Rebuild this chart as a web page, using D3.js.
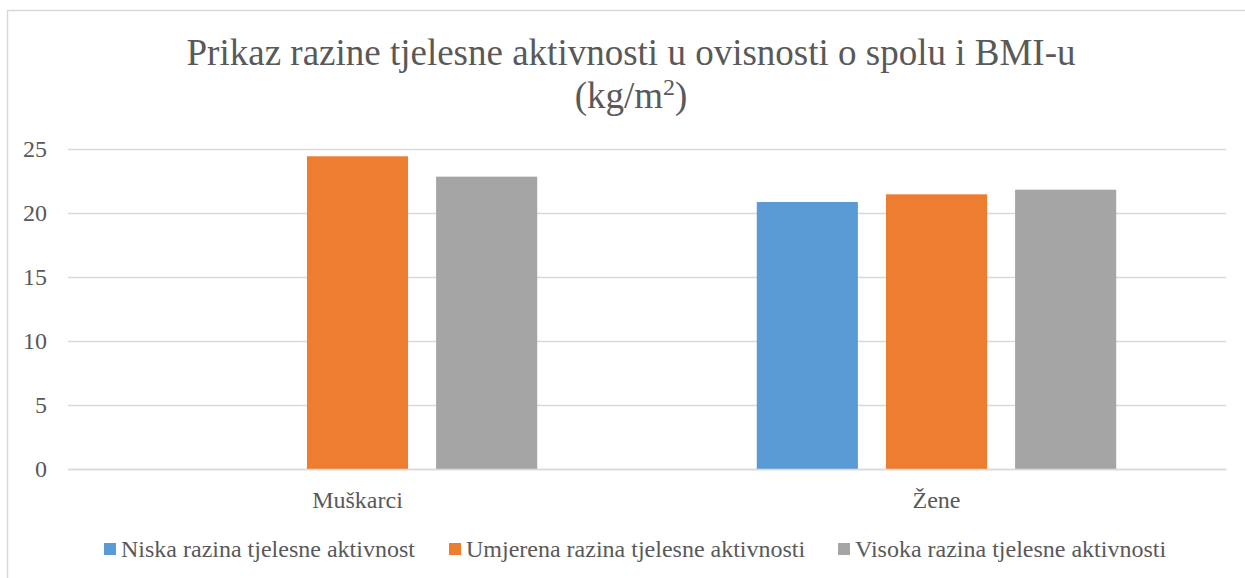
<!DOCTYPE html>
<html>
<head>
<meta charset="utf-8">
<script src="https://cdn.jsdelivr.net/npm/d3@7"></script>
<style>
  body { margin: 0; background: #fff; }
  svg text { font-family: "Liberation Serif", "Times New Roman", Times, Tinos, "DejaVu Serif", "Noto Serif", serif !important; fill: #595959; }
</style>
</head>
<body>
<script>
// chart data
var categories = ["Muškarci", "Žene"];
var seriesNames = ["Niska razina tjelesne aktivnost", "Umjerena razina tjelesne aktivnosti", "Visoka razina tjelesne aktivnosti"];
var seriesColors = ["#5b9bd5", "#ed7d31", "#a5a5a5"];
var niskaValues = [null, 20.86];
var umjerenaValues = [24.43, 21.46];
var visokaValues = [22.84, 21.82];
var yTicks = [0, 5, 10, 15, 20, 25];

var seriesValues = [niskaValues, umjerenaValues, visokaValues];

var width = 1245;
var height = 578;

var svg = d3.select("body")
            .append("svg")
            .attr("width", width)
            .attr("height", height);

// outer border of the chart area
svg.append("rect")
   .attr("x", 7.5)
   .attr("y", 10.5)
   .attr("width", 1300)
   .attr("height", 700)
   .style("fill", "none")
   .style("stroke", "#d9d9d9")
   .style("stroke-width", 1.5);

// title
var title = svg.append("text")
               .attr("x", 631)
               .attr("y", 65)
               .attr("text-anchor", "middle")
               .style("font-size", "37px");
title.append("tspan").text("Prikaz razine tjelesne aktivnosti u ovisnosti o spolu i BMI-u");
var line2 = svg.append("text")
               .attr("x", 631)
               .attr("y", 108)
               .attr("text-anchor", "middle")
               .style("font-size", "37px");
line2.append("tspan").text("(kg/m");
line2.append("tspan").attr("dy", -13).style("font-size", "24px").text("2");
line2.append("tspan").attr("dy", 13).text(")");

var plotLeft = 68, plotRight = 1226, plotTop = 149, plotBottom = 469;

var y = d3.scaleLinear()
          .domain([0, 25])
          .range([plotBottom, plotTop]);

var x0 = d3.scaleBand()
           .domain(categories)
           .range([plotLeft, plotRight])
           .padding(0);

var x1 = d3.scaleBand()
           .domain(seriesNames)
           .range([0, x0.bandwidth()])
           .paddingInner(0.217)
           .paddingOuter(0.85);

// gridlines
var yAxis = d3.axisLeft(y)
              .tickValues(yTicks)
              .tickSize(-(plotRight - plotLeft))
              .tickPadding(21);

var gy = svg.append("g")
            .attr("transform", "translate(" + plotLeft + ",0)")
            .call(yAxis)
            .attr("font-family", null);
gy.select(".domain").remove();
gy.selectAll(".tick line")
  .style("stroke", "#d9d9d9")
  .style("stroke-width", 1.5);
gy.selectAll(".tick text")
  .style("font-size", "24px");

// bars
var groups = svg.selectAll(".group")
                .data(categories)
                .enter()
                .append("g")
                .attr("class", "group")
                .attr("transform", function(d) { return "translate(" + x0(d) + ",0)"; });

groups.selectAll("rect")
      .data(function(d, i) {
          return seriesNames.map(function(s, j) {
              return { series: s, value: seriesValues[j][i], color: seriesColors[j] };
          }).filter(function(e) { return e.value != null; });
      })
      .enter()
      .append("rect")
      .attr("x", function(d) { return x1(d.series); })
      .attr("width", x1.bandwidth())
      .attr("y", function(d) { return y(d.value); })
      .attr("height", function(d) { return plotBottom - y(d.value); })
      .style("fill", function(d) { return d.color; });

// category labels
var xAxis = d3.axisBottom(x0).tickSize(0).tickPadding(22);
var gx = svg.append("g")
            .attr("transform", "translate(0," + plotBottom + ")")
            .call(xAxis)
            .attr("font-family", null);
gx.select(".domain")
  .style("stroke", "#d9d9d9")
  .style("stroke-width", 1.5);
gx.selectAll(".tick text")
  .style("font-size", "24px");

// legend
var legendX = [104, 449, 838];
var legend = svg.selectAll(".legend")
                .data(seriesNames)
                .enter()
                .append("g")
                .attr("class", "legend")
                .attr("transform", function(d, i) { return "translate(" + legendX[i] + ",543)"; });
legend.append("rect")
      .attr("width", 12)
      .attr("height", 12)
      .style("fill", function(d, i) { return seriesColors[i]; });
legend.append("text")
      .attr("x", 17)
      .attr("y", 14)
      .style("font-size", "24px")
      .text(function(d) { return d; });
</script>
</body>
</html>
